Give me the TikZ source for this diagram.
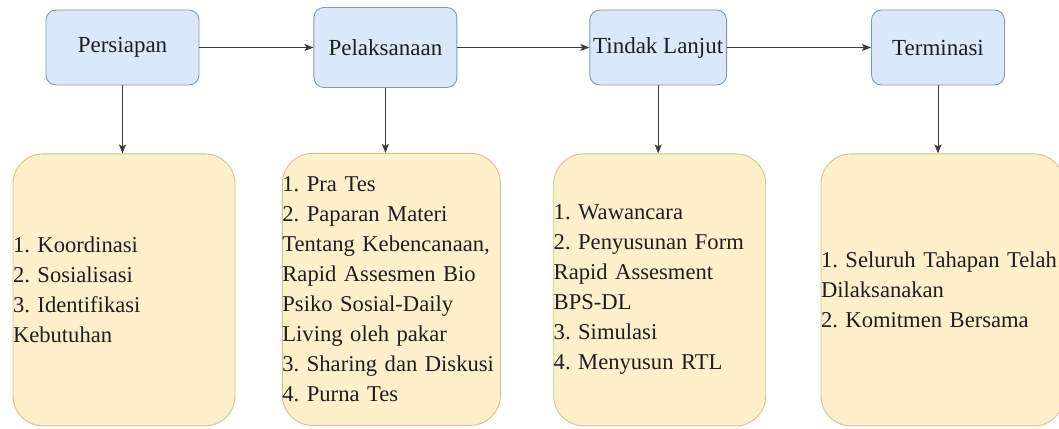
\documentclass[tikz,border=0pt]{standalone}
\usepackage{fontspec}
\setmainfont{Liberation Serif}
\usetikzlibrary{shapes.geometric, arrows.meta, positioning, backgrounds}

\definecolor{phasefill}{HTML}{DAE8FC}
\definecolor{phaseborder}{HTML}{7E97BD}
\definecolor{detailfill}{HTML}{FFF0CC}
\definecolor{detailborder}{HTML}{D8C08A}
\definecolor{linegray}{HTML}{3C3C3C}
\definecolor{textdark}{HTML}{1E1E1E}

\begin{document}
\frenchspacing
\begin{tikzpicture}[
    x=1pt, y=1pt,
    phase/.style={rectangle, draw=phaseborder, fill=phasefill, text centered, rounded corners=10pt, minimum height=75pt, line width=0.9pt, text=textdark, font=\fontsize{23}{30}\selectfont},
    detail/.style={rectangle, draw=detailborder, fill=detailfill, align=left, rounded corners=30pt, minimum height=272pt, inner xsep=0pt, line width=0.9pt, text=textdark, font=\fontsize{22.6}{30}\selectfont},
    line/.style={draw, -{Stealth[length=9pt, width=7pt, inset=2pt]}, line width=1pt, color=linegray}
]
    \useasboundingbox (0,0) rectangle (1059,-428);

    % Top row: stages
    \node [phase, minimum width=153pt] (persiapan) at (122.5,-47.5) {Persiapan};
    \node [phase, minimum width=143pt, minimum height=80pt, right=114pt of persiapan] (pelaksanaan) {Pelaksanaan};
    \node [phase, minimum width=133pt, right=132pt of pelaksanaan] (tindak) {Tindak Lanjut};
    \node [phase, minimum width=133pt, right=144pt of tindak] (terminasi) {Terminasi};

    % Bottom row: activities
    \node [detail, text width=222pt, below=68pt of persiapan, xshift=1.5pt] (koordinasi) {1. Koordinasi\\2. Sosialisasi\\3. Identifikasi\\Kebutuhan};
    \node [detail, text width=218pt, below=65pt of pelaksanaan, xshift=6pt] (prates) {1. Pra Tes\\2. Paparan Materi\\Tentang Kebencanaan,\\Rapid Assesmen Bio\\Psiko Sosial-Daily\\Living oleh pakar\\3. Sharing dan Diskusi\\4. Purna Tes};
    \node [detail, text width=212pt, below=68pt of tindak, xshift=1.5pt] (wawancara) {1. Wawancara\\2. Penyusunan Form\\Rapid Assesment\\BPS-DL\\3. Simulasi\\4. Menyusun RTL};
    \node [detail, text width=243pt, below=68pt of terminasi, xshift=4.5pt] (seluruh) {1. Seluruh Tahapan Telah\\Dilaksanakan\\2. Komitmen Bersama};

    % Connections
    \path [line] (persiapan) -- (pelaksanaan);
    \path [line] (pelaksanaan) -- (tindak);
    \path [line] (tindak) -- (terminasi);

    \path [line] (persiapan) -- (persiapan |- koordinasi.north);
    \path [line] (pelaksanaan) -- (pelaksanaan |- prates.north);
    \path [line] (tindak) -- (tindak |- wawancara.north);
    \path [line] (terminasi) -- (terminasi |- seluruh.north);

\end{tikzpicture}
\end{document}
